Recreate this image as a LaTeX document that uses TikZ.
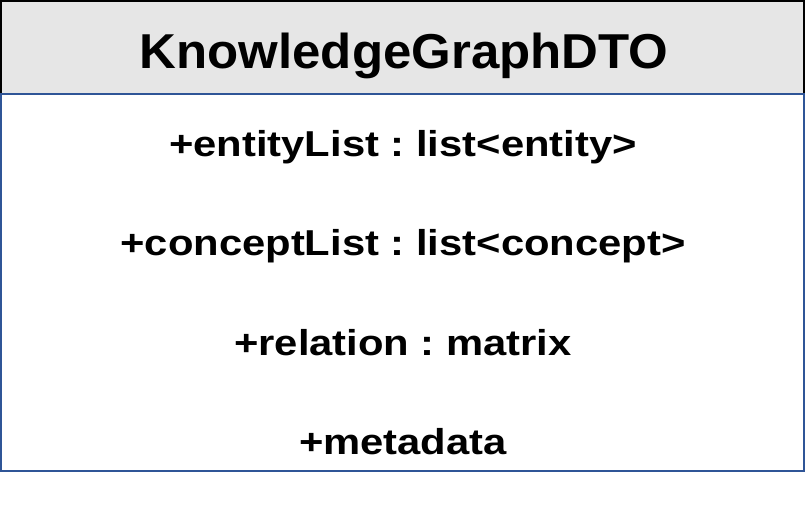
\documentclass[tikz,border=0pt]{standalone}
\usepackage{fontspec}
\setmainfont{Liberation Sans}
\newfontfamily\titlefont[FakeStretch=1.04]{Liberation Sans}
\newfontfamily\attrfont[FakeStretch=1.16]{Liberation Sans}
\definecolor{hdrfill}{HTML}{E6E6E6}
\definecolor{bodyline}{HTML}{2F5597}
\frenchspacing
\begin{document}
\begin{tikzpicture}[x=1pt,y=-1pt,
  titletext/.style={font=\titlefont\bfseries\fontsize{49}{56}\selectfont, text=black, anchor=base, inner sep=0pt},
  attrtext/.style={font=\attrfont\bfseries\fontsize{36}{42}\selectfont, text=black, anchor=base, inner sep=0pt}]
\useasboundingbox (0,0) rectangle (806,528);
\fill[white] (0,0) rectangle (806,528);
% header
\fill[hdrfill] (1,1) rectangle (803.5,93.5);
\draw[black, line width=2pt] (1,93.5) -- (1,1) -- (803.5,1) -- (803.5,93.5);
% body
\draw[bodyline, line width=2pt] (1,93.5) rectangle (803.5,471);
\node[titletext] (title) at (404,68) {KnowledgeGraphDTO};
\node[attrtext] (a1) at (403,156) {+entityList : list<entity>};
\node[attrtext] (a2) at (403,255) {+conceptList : list<concept>};
\node[attrtext] (a3) at (403,355) {+relation : matrix};
\node[attrtext] (a4) at (403,454) {+metadata};
\end{tikzpicture}
\end{document}
